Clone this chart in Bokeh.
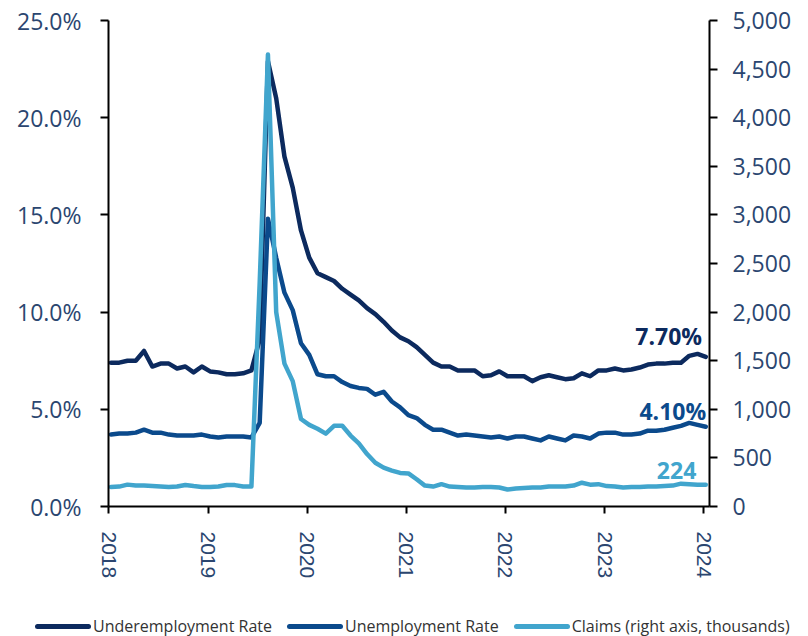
from bokeh.plotting import figure
from bokeh.layouts import column
from bokeh.models import (Range1d, LinearAxis, FixedTicker, NumeralTickFormatter,
                          PrintfTickFormatter, Label, Div)
from bokeh.embed import file_html
from bokeh.resources import INLINE

# ---- data (monthly, 73 points) ----
year_labels = ["2018", "2019", "2020", "2021", "2022", "2023", "2024"]
series_names = ["Underemployment Rate", "Unemployment Rate", "Claims (right axis, thousands)"]

underemployment = [7.4, 7.4, 7.5, 7.5, 8.0, 7.2, 7.35, 7.35, 7.1, 7.2, 6.9, 7.2,
                   6.95, 6.9, 6.8, 6.8, 6.85, 7.0, 8.6, 22.9, 21.0, 18.0, 16.4, 14.2,
                   12.8, 12.0, 11.8, 11.6, 11.2, 10.9, 10.6, 10.2, 9.9, 9.5, 9.05, 8.7,
                   8.5, 8.2, 7.8, 7.4, 7.2, 7.2, 7.0, 7.0, 7.0, 6.7, 6.75, 6.95,
                   6.7, 6.7, 6.7, 6.45, 6.65, 6.75, 6.65, 6.55, 6.6, 6.85, 6.7, 7.0,
                   7.0, 7.1, 7.0, 7.05, 7.15, 7.3, 7.35, 7.35, 7.4, 7.4, 7.75, 7.85,
                   7.70]

unemployment = [3.7, 3.75, 3.75, 3.8, 3.95, 3.8, 3.8, 3.7, 3.65, 3.65, 3.65, 3.7,
                3.6, 3.55, 3.6, 3.6, 3.6, 3.55, 4.3, 14.8, 12.8, 11.0, 10.1, 8.4,
                7.8, 6.8, 6.7, 6.7, 6.4, 6.2, 6.1, 6.05, 5.75, 5.9, 5.4, 5.1,
                4.7, 4.55, 4.2, 3.95, 3.95, 3.8, 3.65, 3.7, 3.65, 3.6, 3.55, 3.6,
                3.5, 3.6, 3.6, 3.5, 3.4, 3.6, 3.5, 3.4, 3.65, 3.6, 3.5, 3.75,
                3.8, 3.8, 3.7, 3.7, 3.75, 3.9, 3.9, 3.95, 4.05, 4.15, 4.3, 4.2,
                4.10]

claims = [200, 205, 225, 215, 215, 210, 205, 200, 205, 222, 210, 200,
          200, 205, 222, 220, 205, 205, 2300, 4650, 2000, 1470, 1290, 900,
          840, 800, 750, 830, 830, 730, 650, 540, 450, 400, 370, 345,
          340, 280, 215, 205, 230, 205, 200, 195, 195, 200, 200, 195,
          175, 185, 190, 195, 195, 205, 205, 205, 215, 245, 225, 230,
          210, 205, 195, 200, 200, 205, 205, 210, 215, 235, 230, 225,
          224]

year_ticks = [12 * k for k in range(len(year_labels))]
months = [i + 0.25 for i in range(len(underemployment))]  # monthly points sit slightly after tick

# ---- styles ----
C_UNDER = "#0c2a5e"
C_UNEMP = "#0b4a8c"
C_CLAIMS = "#41a5cd"
COLORS = [C_UNDER, C_UNEMP, C_CLAIMS]
TXT = "#2b4670"
FONT = "Open Sans"

p = figure(width=808, height=600, output_backend="svg", toolbar_location=None,
           x_range=Range1d(-0.05, 72.7), y_range=Range1d(0, 25),
           min_border_left=108, min_border_right=99, min_border_top=20,
           min_border_bottom=94)
p.outline_line_color = None
p.xgrid.visible = False
p.ygrid.visible = False

p.extra_y_ranges = {"right": Range1d(0, 5000)}

LW = 4.5
p.line(months, underemployment, line_color=C_UNDER, line_width=LW, line_join="round", line_cap="round")
p.line(months, unemployment, line_color=C_UNEMP, line_width=LW, line_join="round", line_cap="round")
p.line(months, claims, line_color=C_CLAIMS, line_width=LW, line_join="round", line_cap="round",
       y_range_name="right")

def style_axis(ax, size="23px", font=FONT):
    ax.axis_line_color = "black"
    ax.axis_line_width = 2
    ax.major_tick_line_color = "black"
    ax.major_tick_line_width = 2
    ax.major_tick_in = 0
    ax.major_tick_out = 8
    ax.minor_tick_line_color = None
    ax.major_label_text_font = font
    ax.major_label_text_font_size = size
    ax.major_label_text_color = TXT

la = p.yaxis[0]
la.ticker = FixedTicker(ticks=[0, 5, 10, 15, 20, 25])
la.formatter = PrintfTickFormatter(format="%.1f%%")
style_axis(la)
la.major_label_standoff = 19

ra = LinearAxis(y_range_name="right", ticker=FixedTicker(ticks=list(range(0, 5001, 500))),
                formatter=NumeralTickFormatter(format="0,0"))
style_axis(ra)
ra.major_label_standoff = 15
p.add_layout(ra, "right")

xa = p.xaxis[0]
xa.ticker = FixedTicker(ticks=year_ticks)
xa.major_label_overrides = {t: l for t, l in zip(year_ticks, year_labels)}
style_axis(xa, size="21px", font="Liberation Sans")
xa.major_tick_out = 7
xa.major_label_orientation = "vertical"
xa.major_label_standoff = 18

lab_font = dict(text_font=FONT, text_font_size="23px", text_font_style="bold")
p.add_layout(Label(x=71.8, y=8.75, text=f"{underemployment[-1]:.2f}%", text_align="right",
                   text_baseline="middle", text_color=C_UNDER, **lab_font))
p.add_layout(Label(x=72.3, y=4.9, text=f"{unemployment[-1]:.2f}%", text_align="right",
                   text_baseline="middle", text_color=C_UNEMP, **lab_font))
p.add_layout(Label(x=71.1, y=375, y_range_name="right", text=f"{claims[-1]}", text_align="right",
                   text_baseline="middle", text_color=C_CLAIMS, **lab_font))

# ---- legend strip ----
items = []
for name, col in zip(series_names, COLORS):
    items.append(
        f'<span style="display:inline-flex;align-items:center;margin-right:15px;">'
        f'<span style="display:inline-block;width:56px;height:5px;background:{col};'
        f'border-radius:2.5px;"></span>'
        f'<span style="margin-left:2px;">{name}</span></span>')
legend_html = ('<div style="display:flex;align-items:center;height:16px;margin-top:18px;'
               f'padding-left:35px;font-family:\'Open Sans\';font-size:16px;color:#333333;'
               'white-space:nowrap;line-height:16px;">' + "".join(items) + '</div>')
legend_div = Div(text=legend_html, width=808, height=36, margin=(0, 0, 0, 0))

layout = column(p, legend_div, spacing=0)
open("out.html", "w").write(file_html(layout, INLINE))
